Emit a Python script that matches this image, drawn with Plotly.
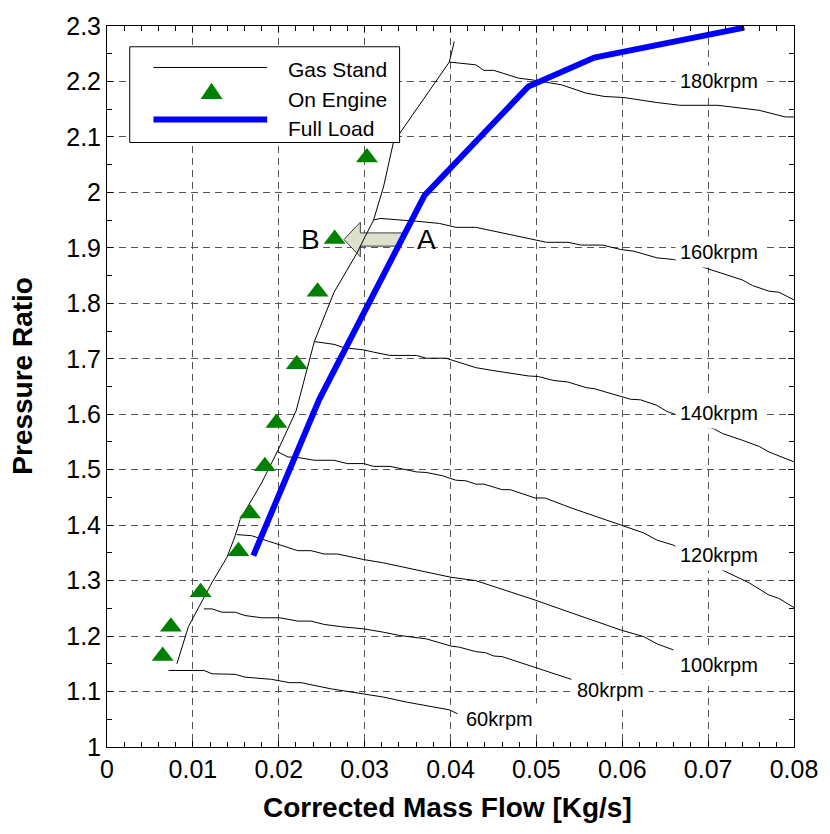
import plotly.graph_objects as go

# ---------------- data ----------------
surge_x = [0.00814, 0.00948, 0.01224, 0.01397, 0.01493, 0.01550, 0.01800, 0.01991, 0.02202, 0.02337,
           0.02414, 0.02644, 0.02912, 0.03008, 0.03104, 0.03220, 0.03335, 0.03986, 0.04044]
surge_y = [1.150, 1.217, 1.297, 1.342, 1.381, 1.410, 1.476, 1.535, 1.606, 1.683,
           1.731, 1.820, 1.891, 1.921, 1.950, 2.010, 2.090, 2.235, 2.272]

n60_x = [0.00717, 0.01128, 0.01224, 0.01493, 0.01608, 0.01914, 0.02126, 0.02260, 0.02605, 0.02989,
         0.03219, 0.03488, 0.03718, 0.03986, 0.04082]
n60_y = [1.138, 1.138, 1.132, 1.131, 1.126, 1.122, 1.116, 1.116, 1.105, 1.096,
         1.090, 1.081, 1.075, 1.067, 1.060]

n80_x = [0.01128, 0.01224, 0.01339, 0.01493, 0.01608, 0.01800, 0.02011, 0.02222, 0.02375, 0.02529,
         0.02720, 0.02989, 0.03219, 0.03411, 0.03718, 0.04006, 0.04102, 0.04294, 0.04409, 0.04505,
         0.04601, 0.04984, 0.05407]
n80_y = [1.249, 1.249, 1.243, 1.243, 1.237, 1.233, 1.233, 1.227, 1.227, 1.221,
         1.217, 1.213, 1.207, 1.201, 1.195, 1.182, 1.180, 1.172, 1.170, 1.164,
         1.163, 1.143, 1.122]

n100_x = [0.01511, 0.01684, 0.01800, 0.02222, 0.02375, 0.02529, 0.02682, 0.02989, 0.03219, 0.03526,
          0.03718, 0.04006, 0.04294, 0.04754, 0.04984, 0.05368, 0.05982, 0.06250, 0.06404, 0.06596]
n100_y = [1.383, 1.381, 1.375, 1.354, 1.354, 1.348, 1.348, 1.338, 1.332, 1.322,
          1.316, 1.306, 1.300, 1.277, 1.265, 1.244, 1.211, 1.199, 1.186, 1.175]

n120_x = [0.01991, 0.02107, 0.02222, 0.02414, 0.02644, 0.02797, 0.02989, 0.03104, 0.03296, 0.03411,
          0.03603, 0.03718, 0.03910, 0.04063, 0.04178, 0.04294, 0.04389, 0.04601, 0.04696, 0.04984,
          0.05099, 0.05406, 0.05982, 0.06250, 0.06404, 0.06596, 0.07152, 0.07286, 0.07478, 0.07708,
          0.07823, 0.08015]
n120_y = [1.532, 1.523, 1.522, 1.517, 1.517, 1.511, 1.511, 1.506, 1.506, 1.502,
          1.496, 1.495, 1.489, 1.481, 1.480, 1.474, 1.474, 1.464, 1.464, 1.449,
          1.449, 1.431, 1.401, 1.386, 1.373, 1.364, 1.320, 1.310, 1.296, 1.274,
          1.268, 1.250]

n140_x = [0.02414, 0.02529, 0.02644, 0.02759, 0.02989, 0.03104, 0.03296, 0.03603, 0.03718, 0.03948,
          0.04063, 0.04294, 0.04486, 0.04716, 0.04907, 0.05022, 0.05195, 0.05368, 0.05579, 0.05675,
          0.05982, 0.06097, 0.06212, 0.06404, 0.06519, 0.06596, 0.07075, 0.07171, 0.07401, 0.07594,
          0.07708, 0.08035]
n140_y = [1.731, 1.728, 1.726, 1.720, 1.716, 1.712, 1.706, 1.706, 1.701, 1.701,
          1.695, 1.684, 1.679, 1.673, 1.669, 1.668, 1.661, 1.658, 1.648, 1.646,
          1.633, 1.627, 1.626, 1.616, 1.605, 1.601, 1.573, 1.565, 1.553, 1.542,
          1.532, 1.512]

n160_x = [0.03104, 0.03180, 0.03603, 0.03871, 0.04063, 0.04294, 0.04601, 0.04907, 0.05118, 0.05368,
          0.05521, 0.05771, 0.05982, 0.06135, 0.06404, 0.06596, 0.06903, 0.07401, 0.07516, 0.07708,
          0.07823, 0.08015]
n160_y = [1.950, 1.953, 1.948, 1.944, 1.937, 1.937, 1.927, 1.917, 1.910, 1.910,
          1.905, 1.905, 1.897, 1.894, 1.882, 1.879, 1.867, 1.842, 1.832, 1.822,
          1.820, 1.805]

n180_x = [0.03986, 0.04294, 0.04389, 0.04504, 0.04792, 0.04946, 0.05291, 0.05579, 0.05790, 0.06020,
          0.06404, 0.06673, 0.07114, 0.07594, 0.07900, 0.08015]
n180_y = [2.235, 2.230, 2.220, 2.220, 2.206, 2.203, 2.194, 2.179, 2.173, 2.171,
          2.162, 2.157, 2.157, 2.148, 2.136, 2.136]

engine_x = [0.00648, 0.00744, 0.01090, 0.01531, 0.01665, 0.01838, 0.01972, 0.02210, 0.02452, 0.02651, 0.03027]
engine_y = [1.164, 1.217, 1.279, 1.353, 1.421, 1.506, 1.584, 1.690, 1.821, 1.916, 2.063]

fullload_x = [0.01704, 0.02472, 0.03699, 0.04907, 0.05675, 0.07421]
fullload_y = [1.345, 1.627, 1.995, 2.191, 2.243, 2.297]

speed_labels = ["60krpm", "80krpm", "100krpm", "120krpm", "140krpm", "160krpm", "180krpm"]
speed_label_x = [0.0457, 0.05865, 0.07130, 0.07125, 0.07125, 0.07125, 0.07125]
speed_label_y = [1.050, 1.103, 1.148, 1.347, 1.602, 1.893, 2.200]

# arrow from A to B
arrow_y = 1.915
arrow_tail_x = 0.0343
arrow_headbase_x = 0.0295
arrow_tip_x = 0.02759
arrow_shaft_half = 0.0119
arrow_head_half = 0.0312
label_A = ("A", 0.0372, 1.915)
label_B = ("B", 0.02371, 1.915)

FONT = "Arial, Liberation Sans, sans-serif"

fig = go.Figure()

gas_lines = [(surge_x, surge_y), (n60_x, n60_y), (n80_x, n80_y), (n100_x, n100_y),
             (n120_x, n120_y), (n140_x, n140_y), (n160_x, n160_y), (n180_x, n180_y)]
for i, (gx, gy) in enumerate(gas_lines):
    fig.add_trace(go.Scatter(x=gx, y=gy, mode="lines", line=dict(color="black", width=1),
                             name="Gas Stand", legendgroup="gas", showlegend=False,
                             hoverinfo="skip"))

fig.add_trace(go.Scatter(x=fullload_x, y=fullload_y, mode="lines",
                         line=dict(color="#0000FF", width=6), name="Full Load", showlegend=False))

fig.add_trace(go.Scatter(x=engine_x, y=engine_y, mode="markers",
                         marker=dict(symbol="triangle-up", size=19, color="#008000",
                                     line=dict(width=0)),
                         name="On Engine", showlegend=False))

# arrow (block arrow) built from the arrow values
ap = (f"M {arrow_tail_x},{arrow_y + arrow_shaft_half} "
      f"L {arrow_headbase_x},{arrow_y + arrow_shaft_half} "
      f"L {arrow_headbase_x},{arrow_y + arrow_head_half} "
      f"L {arrow_tip_x},{arrow_y} "
      f"L {arrow_headbase_x},{arrow_y - arrow_head_half} "
      f"L {arrow_headbase_x},{arrow_y - arrow_shaft_half} "
      f"L {arrow_tail_x},{arrow_y - arrow_shaft_half} Z")
shapes = [dict(type="path", path=ap, xref="x", yref="y", layer="between",
               fillcolor="#dde1cc", line=dict(color="#3a3a3a", width=1))]

# manual legend (box, samples)
shapes += [
    dict(type="rect", xref="paper", yref="paper", x0=0.0331, x1=0.4259, y0=0.8384, y1=0.9712,
         fillcolor="white", line=dict(color="black", width=1), layer="above"),
    dict(type="line", xref="paper", yref="paper", x0=0.0676, x1=0.2331, y0=0.9425, y1=0.9425,
         line=dict(color="black", width=1), layer="above"),
    dict(type="line", xref="paper", yref="paper", x0=0.0676, x1=0.2331, y0=0.8703, y1=0.8703,
         line=dict(color="#0000FF", width=6), layer="above"),
    dict(type="path", xref="paper", yref="paper", xsizemode="pixel", ysizemode="pixel",
         xanchor=0.1522, yanchor=0.9062, path="M -11,-5.4 L 11,-5.4 L 0,10.8 Z",
         fillcolor="#008000", line=dict(width=0), layer="above"),
]

annotations = []
for txt, ty in [("Gas Stand", 0.9397), ("On Engine", 0.8986), ("Full Load", 0.8585)]:
    annotations.append(dict(text=txt, x=0.2604, y=ty, xref="paper", yref="paper",
                            xanchor="left", yanchor="middle", showarrow=False,
                            font=dict(family=FONT, size=21, color="black")))

for lab, lx, ly in zip(speed_labels, speed_label_x, speed_label_y):
    annotations.append(dict(text=lab, x=lx, y=ly, xref="x", yref="y", showarrow=False,
                            xanchor="center", yanchor="middle", bgcolor="white", borderpad=4,
                            font=dict(family=FONT, size=20, color="black")))

for lab, lx, ly in (label_A, label_B):
    annotations.append(dict(text=lab, x=lx, y=ly, xref="x", yref="y", showarrow=False,
                            xanchor="center", yanchor="middle",
                            font=dict(family=FONT, size=28, color="black")))

annotations.append(dict(text="<b>Pressure Ratio</b>", x=-0.1223, y=0.515, xref="paper", yref="paper",
                        textangle=-90, showarrow=False, xanchor="center", yanchor="middle",
                        font=dict(family=FONT, size=28, color="black")))
annotations.append(dict(text="<b>Corrected Mass Flow [Kg/s]</b>", x=0.496, y=-0.0836,
                        xref="paper", yref="paper", showarrow=False, xanchor="center",
                        yanchor="middle", font=dict(family=FONT, size=28, color="black")))

axis_common = dict(showline=True, linecolor="black", linewidth=1, mirror="ticks",
                   ticks="inside", ticklen=6, tickcolor="black", tickwidth=1,
                   showgrid=True, gridcolor="#555555", gridwidth=1, griddash="7px,5px",
                   zeroline=False, tickfont=dict(family=FONT, size=25, color="black"))

fig.update_layout(
    width=830, height=834,
    margin=dict(l=107, r=28, t=17, b=87),
    paper_bgcolor="white", plot_bgcolor="white",
    showlegend=False,
    shapes=shapes, annotations=annotations,
    xaxis=dict(range=[0, 0.08], dtick=0.01, tick0=0,
               minor=dict(dtick=0.002, ticks="inside", ticklen=5, tickcolor="black", showgrid=False),
               **axis_common),
    yaxis=dict(range=[1, 2.3], dtick=0.1, tick0=1,
               minor=dict(dtick=0.05, ticks="inside", ticklen=5, tickcolor="black", showgrid=False),
               **axis_common),
)

fig.write_html("out.html")
